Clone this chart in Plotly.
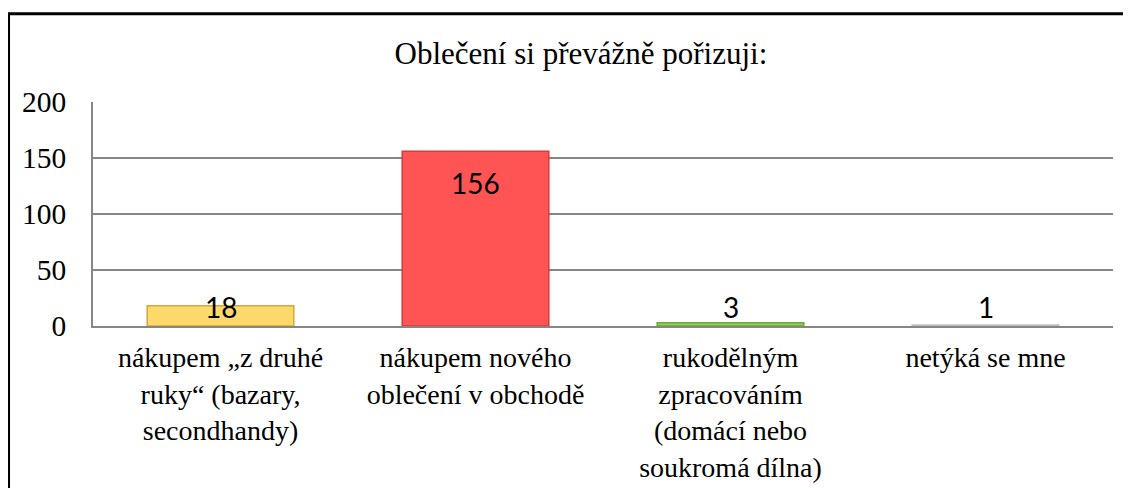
import plotly.graph_objects as go

categories = [
    "nákupem „z druhé<br>ruky“ (bazary,<br>secondhandy)",
    "nákupem nového<br>oblečení v obchodě",
    "rukodělným<br>zpracováním<br>(domácí nebo<br>soukromá dílna)",
    "netýká se mne",
]
values = [18, 156, 3, 1]
fill_colors = ["#FCD96A", "#FF5454", "#92D050", "#D9D9D9"]
edge_colors = ["#D8A63C", "#D43B3B", "#6EA83A", "#BFBFBF"]
title_text = "Oblečení si převážně pořizuji:"
y_ticks = [0, 50, 100, 150, 200]

serif = "'Liberation Serif', 'Times New Roman', serif"
sans = "Lato"

fig = go.Figure()
fig.add_trace(go.Bar(
    x=categories, y=values,
    marker=dict(color=fill_colors, line=dict(color=edge_colors, width=1.5)),
    width=0.575,
    hoverinfo="skip",
))

# data labels
for c, v in zip(categories, values):
    if v > 40:
        fig.add_annotation(x=c, y=v, text=str(v), showarrow=False,
                           yanchor="top", yshift=-13,
                           font=dict(family=sans, size=28, color="black"))
    else:
        fig.add_annotation(x=c, y=0, text=str(v), showarrow=False,
                           yanchor="bottom", yshift=0,
                           font=dict(family=sans, size=28, color="black"))

# outer chart border
fig.add_shape(type="rect", xref="paper", yref="paper",
              x0=-0.0828, x1=1.03, y0=-0.8, y1=1.394,
              line=dict(color="black", width=3), fillcolor="rgba(0,0,0,0)",
              layer="below")

fig.update_layout(
    width=1123, height=480,
    margin=dict(l=85, r=18, t=94, b=162),
    paper_bgcolor="white", plot_bgcolor="white",
    showlegend=False,
    bargap=0.425,
    font=dict(family=serif),
    title=dict(text=title_text, x=0.5102, xref="container", xanchor="center",
               y=1 - 45 / 480, yref="container", yanchor="middle",
               font=dict(family=serif, size=31, color="black")),
    xaxis=dict(showgrid=False, showline=True, linecolor="#868686", linewidth=1.5,
               ticks="", tickfont=dict(family=serif, size=28, color="black"),
               ticklabelstandoff=6, automargin=False, fixedrange=True),
    yaxis=dict(range=[0, 200], tickvals=y_ticks, showgrid=True,
               gridcolor="#868686", gridwidth=1.5, showline=True,
               linecolor="#868686", linewidth=1.5, zeroline=False, ticks="",
               tickfont=dict(family=serif, size=29.5, color="black"),
               ticklabelstandoff=19, automargin=False, fixedrange=True),
)

fig.write_html("out.html")
